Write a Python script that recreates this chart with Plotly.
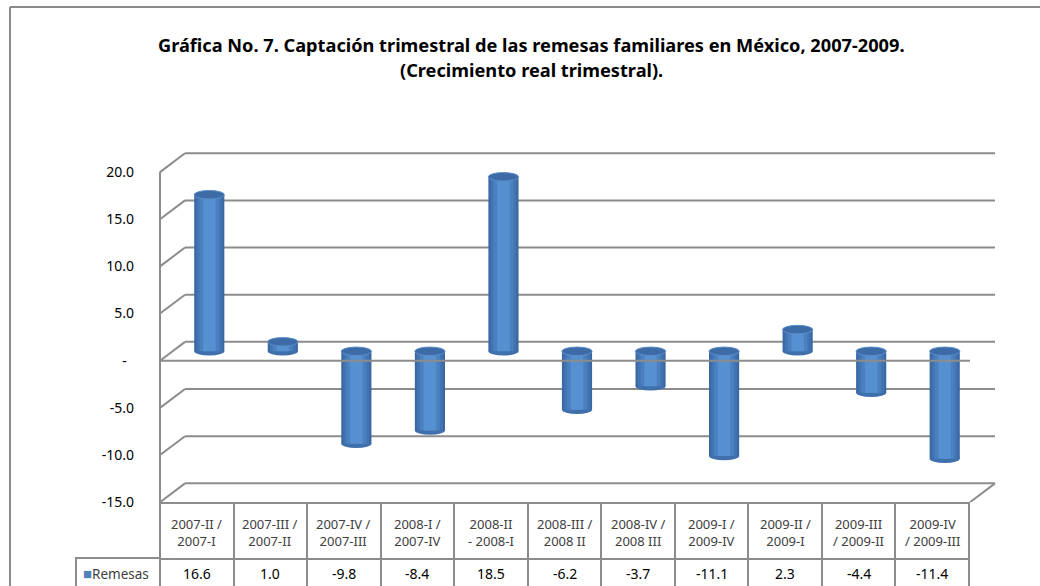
import plotly.graph_objects as go

# ---------------- data ----------------
categories = ["2007-II /<br>2007-I", "2007-III /<br>2007-II", "2007-IV /<br>2007-III",
              "2008-I /<br>2007-IV", "2008-II<br>- 2008-I", "2008-III /<br>2008 II",
              "2008-IV /<br>2008 III", "2009-I /<br>2009-IV", "2009-II /<br>2009-I",
              "2009-III<br>/ 2009-II", "2009-IV<br>/ 2009-III"]
values = [16.6, 1.0, -9.8, -8.4, 18.5, -6.2, -3.7, -11.1, 2.3, -4.4, -11.4]
value_labels = ["16.6", "1.0", "-9.8", "-8.4", "18.5", "-6.2", "-3.7", "-11.1", "2.3", "-4.4", "-11.4"]
series_name = "Remesas"
tick_values = [-15, -10, -5, 0, 5, 10, 15, 20]
tick_labels = ["-15.0", "-10.0", "-5.0", "-\u00a0\u00a0", "5.0", "10.0", "15.0", "20.0"]
title_line1 = "Gráfica No. 7. Captación trimestral de las remesas familiares en México, 2007-2009."
title_line2 = "(Crecimiento real trimestral)."

# ---------------- layout geometry (reference pixels) ----------------
W, H = 1040, 586
FIG_H = 597                  # rendered output is compressed vertically by ~586/597
VS = FIG_H / H
def px(x):
    return x / W
def py(y):
    return 1 - y / H

X_L, X_R = 160, 969          # front plane / data table columns
DX = 25                      # depth offset (px, horizontal)
DEPTH = 2.0                  # depth offset (data units, vertical)
Y_MIN, Y_MAX = -15, 22.5
PX_PER_UNIT = 9.4
Y_BOTTOM_PX = 500.5
Y_TOP_PX = Y_BOTTOM_PX - (Y_MAX - Y_MIN) * PX_PER_UNIT
TABLE_TOP, ROW_SPLIT, ROW_H = 501, 556, 31
BAR_W = 0.41
CAP_H = 0.45                 # half height of cylinder end ellipses (data units)

GRID = "#8C8C8C"
FONT = "Noto Sans"
n = len(values)

fig = go.Figure()

# cylinder-like bars: overlaid bars of decreasing width and lighter tint
shades = [(BAR_W, "#3A68A3"), (0.35, "#4374B2"), (0.27, "#4B80C0"), (0.17, "#5690D0")]
for w, c in shades:
    fig.add_trace(go.Bar(
        x=list(range(n)), y=values, base=[DEPTH / 2] * n,
        width=w, marker=dict(color=c, line=dict(width=0)),
        xaxis="x2", yaxis="y", showlegend=False, hoverinfo="skip"))

# invisible trace to create the x/y subplot used for table text placement
fig.add_trace(go.Scatter(x=list(range(n)), y=[None] * n, xaxis="x", yaxis="y",
                         mode="markers", showlegend=False, hoverinfo="skip"))

# data table grid (text is placed with annotations so it can be centred)
fig.add_trace(go.Table(
    domain=dict(x=[px(X_L), px(X_R)], y=[0, py(TABLE_TOP)]),
    header=dict(values=[""] * n, height=(ROW_SPLIT - TABLE_TOP) * VS,
                line=dict(color=GRID, width=2), fill=dict(color="white")),
    cells=dict(values=[[""] for _ in range(n)], height=ROW_H * VS,
               line=dict(color=GRID, width=2), fill=dict(color="white")),
))
fig.add_trace(go.Table(
    domain=dict(x=[px(76), px(X_L)], y=[0, py(ROW_SPLIT)]),
    header=dict(values=[""], height=ROW_H * VS,
                line=dict(color=GRID, width=2), fill=dict(color="white")),
))

annotations = [
    dict(text="<b>" + title_line1 + "</b>", xref="paper", yref="paper",
         x=px(531), y=py(45), showarrow=False, xanchor="center", yanchor="middle",
         font=dict(family=FONT, size=18.2, color="#000000")),
    dict(text="<b>" + title_line2 + "</b>", xref="paper", yref="paper",
         x=px(531), y=py(70), showarrow=False, xanchor="center", yanchor="middle",
         font=dict(family=FONT, size=18.2, color="#000000")),
    dict(text="<span style='color:#4F81BD;font-size:15px'>■</span>" + series_name,
         xref="paper", yref="paper",
         x=px(81), y=py(571), showarrow=False, xanchor="left", yanchor="middle",
         font=dict(family=FONT, size=13.5, color="#404040")),
]
for i, (c, v) in enumerate(zip(categories, value_labels)):
    annotations.append(dict(text=c, xref="x", yref="paper", x=i, y=py(531),
                            showarrow=False, xanchor="center", yanchor="middle", align="center",
                            font=dict(family=FONT, size=13, color="#404040")))
    annotations.append(dict(text=v, xref="x", yref="paper", x=i, y=py(572),
                            showarrow=False, xanchor="center", yanchor="middle",
                            font=dict(family=FONT, size=14, color="#000000")))

shapes = []
# back wall gridlines + side wall diagonals
for v in tick_values:
    shapes.append(dict(type="line", xref="paper", yref="y",
                       x0=px(X_L + DX), x1=px(X_R + DX + 1), y0=v + DEPTH, y1=v + DEPTH,
                       line=dict(color=GRID, width=2), layer="below"))
    shapes.append(dict(type="line", xref="paper", yref="y",
                       x0=px(X_L), x1=px(X_L + DX), y0=v, y1=v + DEPTH,
                       line=dict(color=GRID, width=2), layer="below"))
# cylinder end caps, derived from the data values
for i, v in enumerate(values):
    top = max(v, 0) + DEPTH / 2
    bot = min(v, 0) + DEPTH / 2
    shapes.append(dict(type="circle", xref="x2", yref="y",
                       x0=i - BAR_W / 2, x1=i + BAR_W / 2, y0=bot - CAP_H, y1=bot + CAP_H,
                       fillcolor="#3F70AC", line=dict(width=0), layer="below"))
    shapes.append(dict(type="circle", xref="x2", yref="y",
                       x0=i - BAR_W / 2, x1=i + BAR_W / 2, y0=top - CAP_H, y1=top + CAP_H,
                       fillcolor="#3C6BA6", line=dict(color="#5B8DCB", width=1), layer="above"))
# floor right diagonal
shapes.append(dict(type="line", xref="paper", yref="y",
                   x0=px(X_R + 1), x1=px(X_R + DX + 1), y0=Y_MIN, y1=Y_MIN + DEPTH,
                   line=dict(color=GRID, width=2), layer="below"))
# front zero line
shapes.append(dict(type="line", xref="paper", yref="y",
                   x0=px(X_L), x1=px(X_R + 1), y0=0, y1=0,
                   line=dict(color=GRID, width=2), layer="above"))
# front left vertical axis line
shapes.append(dict(type="line", xref="paper", yref="y",
                   x0=px(X_L), x1=px(X_L), y0=Y_MIN, y1=max(tick_values),
                   line=dict(color=GRID, width=2), layer="above"))
# chart area border (left and top edges visible)
shapes.append(dict(type="line", xref="paper", yref="paper",
                   x0=px(10), x1=px(10), y0=0, y1=py(7),
                   line=dict(color="#8A8A8A", width=2), layer="below"))
shapes.append(dict(type="line", xref="paper", yref="paper",
                   x0=px(10), x1=1, y0=py(7), y1=py(7),
                   line=dict(color="#8A8A8A", width=2), layer="below"))

fig.update_layout(
    width=W, height=FIG_H,
    margin=dict(l=0, r=0, t=0, b=0),
    paper_bgcolor="white", plot_bgcolor="rgba(0,0,0,0)",
    barmode="overlay", showlegend=False,
    xaxis=dict(domain=[px(X_L), px(X_R)], visible=False, range=[-0.5, n - 0.5],
               anchor="y"),
    xaxis2=dict(domain=[px(X_L + DX / 2), px(X_R + DX / 2)], visible=False,
                range=[-0.5, n - 0.5], anchor="y"),
    yaxis=dict(domain=[py(Y_BOTTOM_PX), py(Y_TOP_PX)], range=[Y_MIN, Y_MAX],
               anchor="free", position=px(X_L), showgrid=False, zeroline=False,
               showline=False, ticks="", tickvals=tick_values, ticktext=tick_labels,
               ticklabelstandoff=26,
               tickfont=dict(family=FONT, size=14, color="#000000")),
    shapes=shapes,
    annotations=annotations,
)

fig.write_html("out.html", config={"displayModeBar": False, "responsive": False},
               post_script="document.body.style.margin='0';document.body.style.overflow='hidden';")
